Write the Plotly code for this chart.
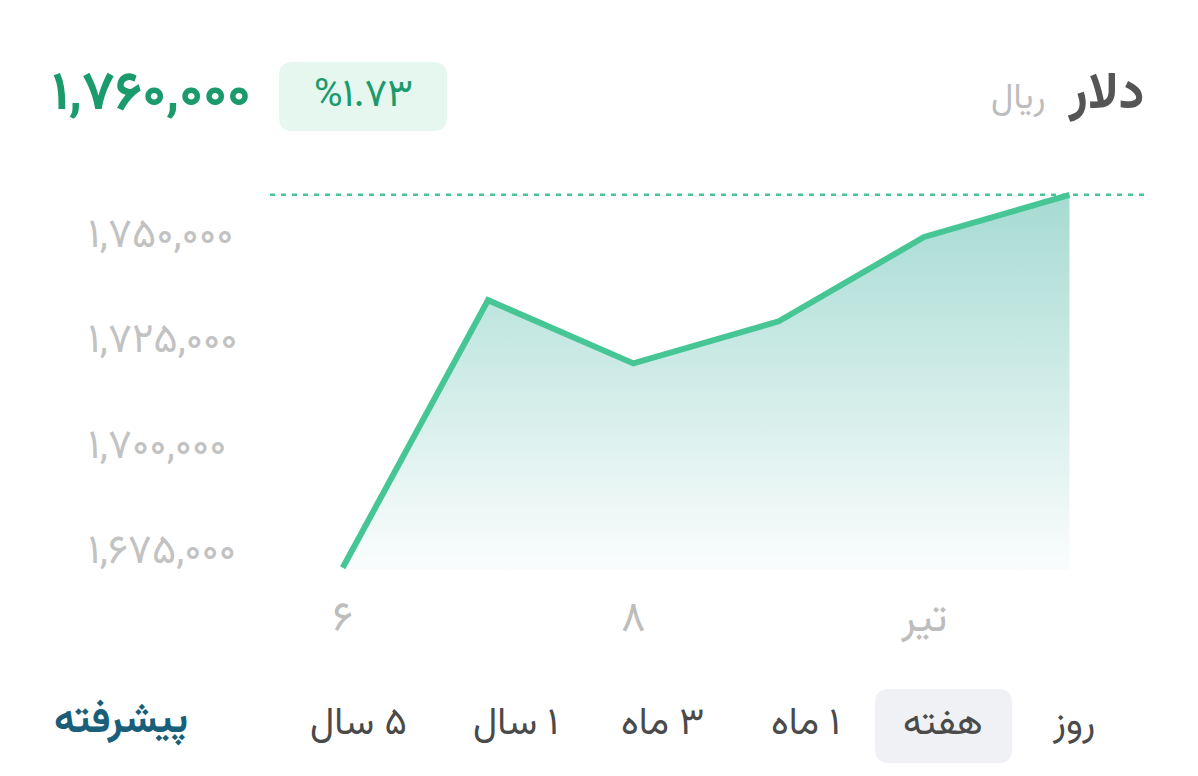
import plotly.graph_objects as go

# ---- data ----
days = [0, 1, 2, 3, 4, 5]
prices = [1671500, 1735000, 1720000, 1730000, 1750000, 1760000]
x_tick_vals = [0, 2, 4]
x_tick_text = ["۶", "۸", "تیر"]
y_tick_vals = [1675000, 1700000, 1725000, 1750000]
y_tick_text = ["۱,۶۷۵,۰۰۰", "۱,۷۰۰,۰۰۰", "۱,۷۲۵,۰۰۰", "۱,۷۵۰,۰۰۰"]
current_price_text = "۱,۷۶۰,۰۰۰"
change_text = "%۱.۷۳"
title_text = "دلار"
unit_text = "ریال"
range_buttons = ["روز", "هفته", "۱ ماه", "۳ ماه", "۱ سال", "۵ سال"]
advanced_text = "پیشرفته"

W, H = 1198, 776
L, R, T, B = 270, 1148, 170, 570
PW, PH = R - L, B - T
Y_MIN, Y_MAX = 1670965, 1765900


def px(x):
    return (x - L) / PW


def py(y):
    return (B - y) / PH


def rrect(x0, y0, x1, y1, r):
    rx, ry = r / PW, r / PH
    a, b = px(x0), px(x1)
    top, bot = py(y0), py(y1)
    return (f"M {a+rx},{top} L {b-rx},{top} Q {b},{top} {b},{top-ry} "
            f"L {b},{bot+ry} Q {b},{bot} {b-rx},{bot} L {a+rx},{bot} "
            f"Q {a},{bot} {a},{bot+ry} L {a},{top-ry} Q {a},{top} {a+rx},{top} Z")


FONT = "Vazirmatn, 'Noto Sans Arabic', 'DejaVu Sans', sans-serif"
GREEN = "#46c695"
DARK_GREEN = "#1b9a6c"
RLM = "\u200f"

fig = go.Figure()
fig.add_trace(go.Scatter(
    x=days, y=prices, mode="lines",
    line=dict(color=GREEN, width=6),
    fill="tozeroy",
    fillgradient=dict(type="vertical", start=Y_MIN, stop=max(prices),
                      colorscale=[[0, "#fbfdfd"], [1, "#a6dbd2"]]),
    hoverinfo="skip", showlegend=False,
))

shapes = [
    dict(type="line", xref="paper", yref="y", x0=0, x1=1, y0=prices[-1], y1=prices[-1],
         line=dict(color=GREEN, width=2.5, dash="5px,6px"), layer="below"),
    dict(type="path", xref="paper", yref="paper", path=rrect(279, 62, 447, 131, 14),
         fillcolor="#e5f7ef", line=dict(width=0)),
    dict(type="path", xref="paper", yref="paper", path=rrect(875, 689, 1012, 763, 14),
         fillcolor="#f0f1f5", line=dict(width=0)),
]

ann = []
# y tick labels (left aligned)
for v, t in zip(y_tick_vals, y_tick_text):
    ann.append(dict(x=px(86), xref="paper", y=v, yref="y", text=t, showarrow=False,
                    xanchor="left", yanchor="middle",
                    font=dict(family=FONT, size=41, color="#c2c2c2")))
# header
ann.append(dict(x=px(1147), y=py(95), xref="paper", yref="paper", text=title_text,
                showarrow=False, xanchor="right", yanchor="middle",
                font=dict(family=FONT, size=52, color="#555555", weight="bold")))
ann.append(dict(x=px(1047), y=py(100), xref="paper", yref="paper", text=unit_text,
                showarrow=False, xanchor="right", yanchor="middle",
                font=dict(family=FONT, size=35, color="#bdbdbd")))
ann.append(dict(x=px(50), y=py(96), xref="paper", yref="paper", text=current_price_text,
                showarrow=False, xanchor="left", yanchor="middle",
                font=dict(family=FONT, size=54, color=DARK_GREEN, weight="bold")))
ann.append(dict(x=px(363), y=py(97), xref="paper", yref="paper", text=change_text,
                showarrow=False, xanchor="center", yanchor="middle",
                font=dict(family=FONT, size=39, color=DARK_GREEN)))
# range buttons
btn_x = [1073, 943, 805, 662, 515, 358]
for bx, t in zip(btn_x, range_buttons):
    ann.append(dict(x=px(bx), y=py(724), xref="paper", yref="paper", text=RLM + t + RLM,
                    showarrow=False, xanchor="center", yanchor="middle",
                    font=dict(family=FONT, size=38, color="#4a4a4a")))
ann.append(dict(x=px(121), y=py(722), xref="paper", yref="paper", text=advanced_text,
                showarrow=False, xanchor="center", yanchor="middle",
                font=dict(family=FONT, size=41, color="#1a5f7a", weight="bold")))

fig.update_layout(
    width=W, height=H,
    margin=dict(l=L, r=W - R, t=T, b=H - B),
    paper_bgcolor="white", plot_bgcolor="white",
    shapes=shapes, annotations=ann,
    xaxis=dict(range=[-0.5, 5.54], tickvals=x_tick_vals, ticktext=x_tick_text,
               showgrid=False, zeroline=False, showline=False, ticks="",
               ticklabelstandoff=18,
               tickfont=dict(family=FONT, size=42, color="#bdbdbd"), fixedrange=True),
    yaxis=dict(range=[Y_MIN, Y_MAX], showgrid=False, zeroline=False, showline=False,
               showticklabels=False, ticks="", fixedrange=True),
)

fig.write_html("out.html")
